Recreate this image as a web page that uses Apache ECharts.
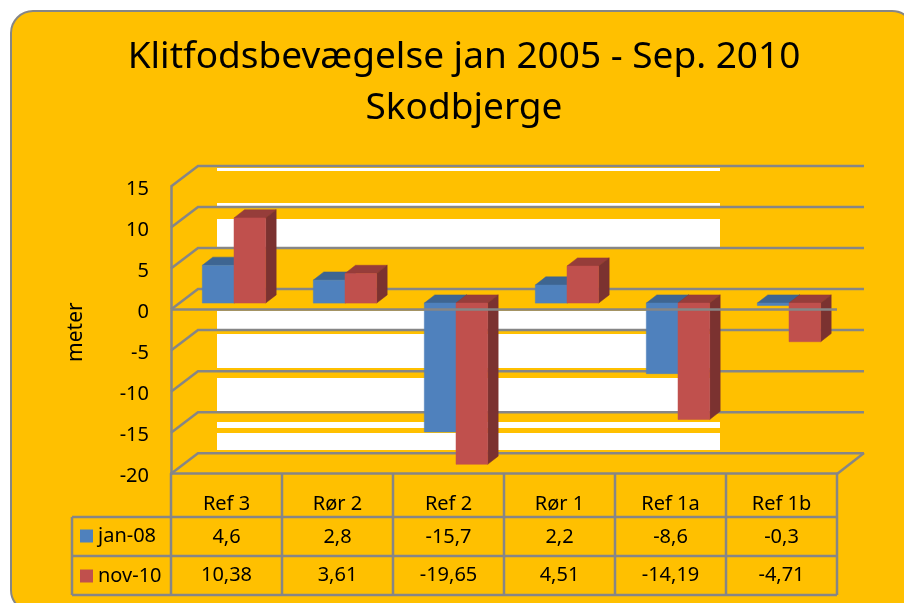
<!DOCTYPE html>
<html>
<head>
<meta charset="utf-8">
<style>html,body{margin:0;padding:0;background:#fff}#main{width:904px;height:603px}</style>
<script src="https://cdn.jsdelivr.net/npm/echarts@6/dist/echarts.min.js"></script>
</head>
<body>
<div id="main"></div>
<script>
  const categories = ['Ref 3', 'Rør 2', 'Ref 2', 'Rør 1', 'Ref 1a', 'Ref 1b']
  const jan08 = [4.6, 2.8, -15.7, 2.2, -8.6, -0.3]
  const nov10 = [10.38, 3.61, -19.65, 4.51, -14.19, -4.71]
  const ticks = [15, 10, 5, 0, -5, -10, -15, -20]

  const font = '"Noto Sans", "Open Sans", sans-serif'
  const lineColor = '#868686'
  const lineWidth = 2.5
  const yellow = '#FFC000'

  // 3d look: how far the back wall and the bars sit behind the axis plane
  const wallDx = 27
  const wallDy = -20.5
  const barDx = 7.5
  const barDy = -6.5
  const depthDx = 10.5
  const depthDy = -8.2
  const barWidth = 31.7

  const chart = echarts.init(document.getElementById('main'))

  // the white strips left behind the wall in the original picture
  const whiteStrips = [[168, 171], [203, 208], [219, 249], [311, 330], [334, 368], [378, 412], [422, 428], [433, 450]]

  function bar3d(seriesIndex, colors) {
    return function (params, api) {
      const i = api.value(0)
      const v = api.value(1)
      const p0 = api.coord([i, 0])
      const p1 = api.coord([i, v])
      const left = p0[0] + barDx + (seriesIndex - 1) * barWidth
      const right = left + barWidth
      const zero = p0[1] + barDy
      const end = p1[1] + barDy
      const top = Math.min(zero, end)
      const bottom = Math.max(zero, end)
      const poly = (points, fill) => ({
        type: 'polygon',
        shape: { points: points },
        style: { fill: fill, stroke: fill, lineWidth: 0.5 },
      })
      return {
        type: 'group',
        children: [
          poly([[left, top], [right, top], [right + depthDx, top + depthDy], [left + depthDx, top + depthDy]], colors[1]),
          poly([[right, top], [right + depthDx, top + depthDy], [right + depthDx, bottom + depthDy], [right, bottom]], colors[2]),
          poly([[left, top], [right, top], [right, bottom], [left, bottom]], colors[0]),
        ],
      }
    }
  }

  function wallLine(params, api) {
    const y = api.coord([0, api.value(1)])[1]
    const g = params.coordSys
    return {
      type: 'polyline',
      shape: {
        points: [[g.x, y], [g.x + wallDx, y + wallDy], [g.x + g.width + wallDx, y + wallDy]],
      },
      style: { fill: 'none', stroke: lineColor, lineWidth: lineWidth },
    }
  }

  function frontZero(params, api) {
    const y = api.coord([0, 0])[1]
    const g = params.coordSys
    return {
      type: 'line',
      shape: { x1: g.x, y1: y, x2: g.x + g.width, y2: y },
      style: { stroke: lineColor, lineWidth: lineWidth },
    }
  }

  function tableCell(params, api) {
    const x = api.coord([api.value(0), 0])[0]
    const row = api.value(1)
    const values = row === 0 ? jan08 : nov10
    return {
      type: 'text',
      style: {
        text: String(values[api.value(0)]).replace('.', ','),
        x: x,
        y: row === 0 ? 537.5 : 575.5,
        align: 'center',
        verticalAlign: 'middle',
        fontSize: 20,
        fontFamily: font,
        fill: '#000',
      },
    }
  }

  const gridLeft = 171
  const gridRight = 837
  const tableRows = [517, 556, 595]
  const tableColumns = [171, 282, 393, 504, 615, 726, 837]

  const graphic = [
    {
      type: 'rect',
      z: -10,
      shape: { x: 11, y: 11, width: 903, height: 601, r: 22 },
      style: { fill: yellow, stroke: lineColor, lineWidth: 2 },
    },
  ]
  whiteStrips.forEach(s => {
    graphic.push({
      type: 'rect',
      z: -9,
      shape: { x: 217, y: s[0], width: 503, height: s[1] - s[0] },
      style: { fill: '#fff' },
    })
  })
  const tableLine = (x1, y1, x2, y2) => ({
    type: 'line',
    z: -8,
    shape: { x1, y1, x2, y2 },
    style: { stroke: lineColor, lineWidth: lineWidth },
  })
  tableColumns.forEach(x => graphic.push(tableLine(x, 474, x, 595)))
  graphic.push(tableLine(72, 517, 72, 595))
  tableRows.forEach(y => graphic.push(tableLine(72, y, 837, y)))
  graphic.push(tableLine(837, 474, 864, 453))

  chart.setOption({
    animation: false,
    backgroundColor: '#fff',
    title: {
      text: 'Klitfodsbevægelse jan 2005 - Sep. 2010\nSkodbjerge',
      left: 459,
      top: 27,
      textAlign: 'center',
      textStyle: { fontFamily: font, fontSize: 37, fontWeight: 'normal', color: '#000', lineHeight: 51 },
    },
    legend: {
      orient: 'vertical',
      left: 80,
      top: 526,
      padding: 0,
      itemGap: 20,
      itemWidth: 13,
      itemHeight: 13,
      textStyle: { fontFamily: font, fontSize: 20, color: '#000' },
      data: [
        { name: 'jan-08', icon: 'rect', itemStyle: { color: '#4F81BD' } },
        { name: 'nov-10', icon: 'rect', itemStyle: { color: '#C0504D' } },
      ],
      selectedMode: false,
    },
    grid: { left: gridLeft, top: 186.5, width: gridRight - gridLeft, height: 287.2 },
    xAxis: {
      type: 'category',
      data: categories,
      axisLine: { onZero: false, lineStyle: { color: lineColor, width: lineWidth } },
      axisTick: { show: false },
      axisLabel: { margin: 21, fontFamily: font, fontSize: 20, color: '#000' },
      splitLine: { show: false },
    },
    yAxis: {
      type: 'value',
      min: -20,
      max: 15,
      interval: 5,
      name: 'meter',
      nameLocation: 'middle',
      nameGap: 84,
      nameTextStyle: { fontFamily: font, fontSize: 21, color: '#000', padding: [0, 4, 0, 0] },
      axisLine: { show: true, lineStyle: { color: lineColor, width: lineWidth } },
      axisTick: { show: false },
      axisLabel: {
        margin: 22,
        formatter: v => '{t|' + v + '}',
        rich: { t: { fontFamily: font, fontSize: 20, color: '#000', padding: [6, 0, 0, 0] } },
      },
      splitLine: { show: false },
    },
    graphic: graphic,
    series: [
      {
        name: 'wall',
        type: 'custom',
        z: 1,
        silent: true,
        renderItem: wallLine,
        data: ticks.map(t => [0, t]),
      },
      {
        name: 'jan-08',
        type: 'custom',
        z: 3,
        renderItem: bar3d(0, ['#4F81BD', '#3E6591', '#2F4D71']),
        itemStyle: { color: '#4F81BD' },
        data: jan08.map((v, i) => [i, v]),
      },
      {
        name: 'nov-10',
        type: 'custom',
        z: 4,
        renderItem: bar3d(1, ['#C0504D', '#963D3A', '#7B3230']),
        itemStyle: { color: '#C0504D' },
        data: nov10.map((v, i) => [i, v]),
      },
      {
        name: 'zero',
        type: 'custom',
        z: 5,
        silent: true,
        renderItem: frontZero,
        data: [[0, 0]],
      },
      {
        name: 'table',
        type: 'custom',
        z: 6,
        silent: true,
        renderItem: tableCell,
        data: categories.flatMap((c, i) => [[i, 0], [i, 1]]),
      },
    ],
  })
</script>
</body>
</html>
